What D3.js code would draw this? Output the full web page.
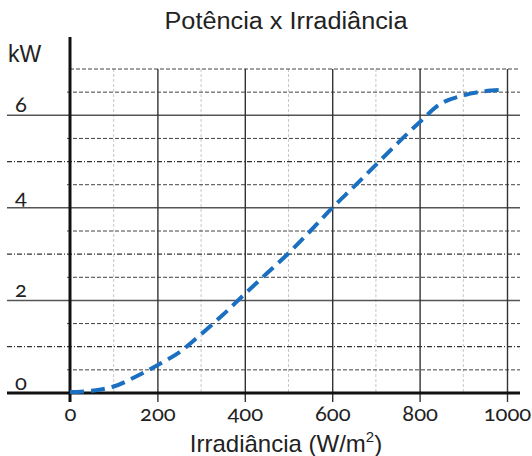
<!DOCTYPE html>
<html>
<head>
<meta charset="utf-8">
<script src="https://cdn.jsdelivr.net/npm/d3@7"></script>
<style>
  body { margin: 0; background: #fff; }
  .num { font-family: Lato, "Noto Sans", sans-serif; font-feature-settings: "onum" 1; font-variant-numeric: oldstyle-nums; }
  .sans { font-family: "Liberation Sans", Arial, sans-serif; }
</style>
</head>
<body>
<div class="chart"></div>
<script>
// curve
const irradiance = [0, 50, 100, 150, 200, 250, 300, 350, 400, 450, 500, 550, 600, 650, 700, 750, 800, 850, 900, 950, 990];
const power = [0.02, 0.05, 0.14, 0.35, 0.6, 0.88, 1.27, 1.69, 2.14, 2.58, 3.02, 3.5, 4.0, 4.46, 4.93, 5.4, 5.85, 6.26, 6.43, 6.52, 6.55];

const xTicks = [0, 200, 400, 600, 800, 1000];
const xMinor = [100, 300, 500, 700, 900];
const yLabels = [0, 2, 4, 6];
const yOdd = [1, 3, 5];
const yHalf = [0.5, 1.5, 2.5, 3.5, 4.5, 5.5, 6.5, 7];

const width = 532;
const height = 456;

const svg = d3.select(".chart")
    .append("svg")
    .attr("width", width)
    .attr("height", height);

const x = d3.scaleLinear()
    .domain([0, 1000])
    .range([70, 507]);

const y = d3.scaleLinear()
    .domain([0, 7])
    .range([393, 69]);

const left = 7, right = 520;

// minor vertical grid
svg.append("g")
    .selectAll("line")
    .data(xMinor)
    .enter()
    .append("line")
    .attr("x1", d => x(d)).attr("x2", d => x(d))
    .attr("y1", y(7)).attr("y2", y(0))
    .attr("stroke", "#c8c8c8")
    .attr("stroke-width", 1)
    .attr("stroke-dasharray", "3,2");

// half-unit dashed lines
svg.append("g")
    .selectAll("line")
    .data(yHalf)
    .enter()
    .append("line")
    .attr("x1", d => d === 7 ? x(0) : x(0) - 3).attr("x2", right)
    .attr("y1", d => y(d)).attr("y2", d => y(d))
    .attr("stroke", "#444")
    .attr("stroke-width", 1)
    .attr("stroke-dasharray", "4,2");

// odd integer dash-dot lines
svg.append("g")
    .selectAll("line")
    .data(yOdd)
    .enter()
    .append("line")
    .attr("x1", left).attr("x2", right)
    .attr("y1", d => y(d)).attr("y2", d => y(d))
    .attr("stroke", "#333")
    .attr("stroke-width", 1.2)
    .attr("stroke-dasharray", "5,2,1,2");

// even integer solid lines
svg.append("g")
    .selectAll("line")
    .data(yLabels.filter(d => d > 0))
    .enter()
    .append("line")
    .attr("x1", left).attr("x2", right)
    .attr("y1", d => y(d)).attr("y2", d => y(d))
    .attr("stroke", "#555")
    .attr("stroke-width", 1.5);

// major vertical lines + x tick labels
const xAxis = svg.append("g")
    .attr("transform", `translate(0, ${y(0)})`)
    .call(d3.axisBottom(x)
        .tickValues(xTicks)
        .tickSize(9)
        .tickPadding(3)
        .tickFormat(d3.format("d")));

xAxis.select(".domain").remove();
xAxis.selectAll(".tick line")
    .attr("y1", y(7) - y(0))
    .attr("stroke", "#333")
    .attr("stroke-width", d => d === 0 ? 0 : 1.4);
xAxis.selectAll("text")
    .attr("class", "num")
    .attr("fill", "#222")
    .style("font-size", "22px");

// x axis line
svg.append("line")
    .attr("x1", left).attr("x2", right)
    .attr("y1", y(0)).attr("y2", y(0))
    .attr("stroke", "#111")
    .attr("stroke-width", 3);

// y axis line
svg.append("line")
    .attr("x1", x(0)).attr("x2", x(0))
    .attr("y1", 37).attr("y2", y(0) + 9)
    .attr("stroke", "#111")
    .attr("stroke-width", 3);

// y labels
svg.append("g")
    .selectAll("text")
    .data(yLabels)
    .enter()
    .append("text")
    .attr("class", "num")
    .attr("x", 15)
    .attr("y", d => y(d) - 3)
    .attr("fill", "#222")
    .style("font-size", "22px")
    .text(d => d);

svg.append("text")
    .attr("class", "sans")
    .attr("x", 8)
    .attr("y", 62)
    .attr("fill", "#222")
    .style("font-size", "23px")
    .text("kW");

// curve
const line = d3.line()
    .x((d, i) => x(irradiance[i]))
    .y(d => y(d))
    .curve(d3.curveCatmullRom);

svg.append("path")
    .datum(power)
    .attr("d", line)
    .attr("fill", "none")
    .attr("stroke", "#1a6fc1")
    .attr("stroke-width", 4)
    .attr("stroke-dasharray", "14,7");

// titles
svg.append("text")
    .attr("class", "sans")
    .attr("x", 286)
    .attr("y", 29)
    .attr("text-anchor", "middle")
    .attr("fill", "#222")
    .attr("textLength", 243)
    .attr("lengthAdjust", "spacingAndGlyphs")
    .style("font-size", "23px")
    .text("Potência x Irradiância");

const xt = svg.append("text")
    .attr("class", "sans")
    .attr("x", 286)
    .attr("y", 452)
    .attr("text-anchor", "middle")
    .attr("fill", "#222")
    .style("font-size", "24px");
xt.append("tspan").text("Irradiância (W/m");
xt.append("tspan").attr("dy", -10).style("font-size", "15px").text("2");
xt.append("tspan").attr("dy", 10).text(")");
</script>
</body>
</html>
